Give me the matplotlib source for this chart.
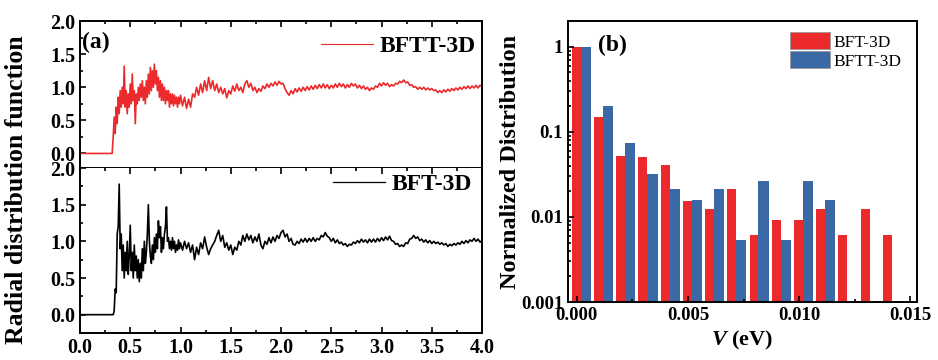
import numpy as np
import matplotlib
matplotlib.use("Agg")
import matplotlib.pyplot as plt
from matplotlib.ticker import (MultipleLocator, FixedLocator, NullFormatter,
                               LogLocator, FuncFormatter, FormatStrFormatter)
from matplotlib.patches import Patch
from matplotlib.lines import Line2D

plt.rcParams['font.family'] = ['Liberation Serif', 'DejaVu Serif']
plt.rcParams['font.weight'] = 'bold'
plt.rcParams['axes.labelweight'] = 'bold'
plt.rcParams['mathtext.fontset'] = 'custom'
plt.rcParams['mathtext.it'] = 'Liberation Serif:italic:bold'
plt.rcParams['mathtext.rm'] = 'Liberation Serif:bold'

# radial grid: flat region, fine steps up to 1.0, coarser afterwards
r_zero = [0.0]
r_fine = np.round(np.arange(0.32, 1.0001, 0.01), 2)
r_coarse = np.round(np.arange(1.02, 4.0001, 0.02), 2)
r_all = np.concatenate([r_zero, r_fine, r_coarse])

# g(r) for BFTT-3D
g_bftt_fine = [
    0.0, 0.25, 0.55, 0.30, 0.70, 0.45, 0.85, 0.60, 0.95, 0.70,   # 0.32-0.41
    1.00, 0.75, 1.32, 0.70, 0.95, 0.60, 0.90, 0.70, 1.05, 0.75,  # 0.42-0.51
    1.20, 0.80, 0.95, 0.45, 0.90, 0.75, 1.00, 0.80, 1.05, 0.85,  # 0.52-0.61
    1.10, 0.80, 1.00, 0.75, 1.10, 0.85, 1.20, 0.90, 1.30, 0.95,  # 0.62-0.71
    1.25, 1.00, 1.35, 1.05, 1.25, 0.95, 1.15, 0.85, 1.10, 0.80,  # 0.72-0.81
    1.05, 0.80, 1.00, 0.75, 0.95, 0.80, 0.95, 0.70, 0.90, 0.75,  # 0.82-0.91
    0.90, 0.72, 0.88, 0.75, 0.85, 0.70, 0.85, 0.75, 0.88,        # 0.92-1.00
]
g_bftt_coarse = [
    0.72, 0.85, 0.68, 0.82, 0.70, 0.90, 0.85, 1.00, 0.88, 1.05,  # 1.02-1.20
    0.92, 1.10, 0.95, 1.15, 0.98, 1.10, 0.95, 1.05, 0.92, 1.00,  # 1.22-1.40
    0.90, 0.98, 0.84, 0.95, 0.90, 1.02, 0.94, 1.05, 0.95, 1.00,  # 1.42-1.60
    0.92, 1.05, 1.10, 1.00, 1.06, 0.95, 1.00, 0.92, 0.98, 0.94,  # 1.62-1.80
    1.02, 0.98, 1.05, 1.00, 1.06, 1.02, 1.08, 1.03, 1.09, 1.05,  # 1.82-2.00
    1.06, 0.98, 0.92, 0.88, 0.95, 0.90, 0.98, 0.93, 0.99, 0.94,  # 2.02-2.20
    1.00, 0.95, 1.01, 0.96, 1.02, 0.97, 1.03, 0.98, 1.04, 0.99,  # 2.22-2.40
    1.05, 0.99, 1.04, 0.98, 1.03, 0.99, 1.05, 1.00, 1.06, 1.01,  # 2.42-2.60
    1.05, 0.99, 1.04, 1.00, 1.06, 1.02, 1.05, 0.99, 1.03, 0.98,  # 2.62-2.80
    1.02, 0.97, 1.00, 0.95, 0.99, 0.97, 1.02, 1.00, 1.06, 1.02,  # 2.82-3.00
    1.07, 1.03, 1.06, 1.01, 1.04, 1.02, 1.06, 1.05, 1.09, 1.07,  # 3.02-3.20
    1.11, 1.07, 1.08, 1.03, 1.04, 1.00, 1.01, 0.97, 1.00, 0.97,  # 3.22-3.40
    1.00, 0.96, 0.99, 0.96, 0.98, 0.95, 0.96, 0.92, 0.95, 0.92,  # 3.42-3.60
    0.96, 0.93, 0.97, 0.94, 0.98, 0.95, 0.99, 0.96, 1.00, 0.97,  # 3.62-3.80
    1.01, 0.98, 1.02, 0.98, 1.02, 0.99, 1.03, 0.99, 1.03, 1.01,  # 3.82-4.00
]

# g(r) for BFT-3D
g_bft_fine = [
    0.0, 0.0, 0.05, 0.35, 0.30, 1.10, 1.20, 1.78, 0.90, 1.10,    # 0.32-0.41
    0.60, 0.95, 0.50, 0.85, 0.60, 1.00, 0.55, 0.80, 1.22, 0.60,  # 0.42-0.51
    0.85, 0.50, 0.95, 0.60, 0.80, 0.50, 0.75, 0.45, 0.70, 0.50,  # 0.52-0.61
    0.90, 0.60, 1.00, 0.70, 0.85, 1.10, 1.50, 1.00, 0.80, 0.70,  # 0.62-0.71
    0.95, 0.75, 1.05, 0.85, 1.10, 0.90, 1.28, 1.05, 1.20, 0.85,  # 0.72-0.81
    1.05, 0.90, 1.10, 1.20, 1.47, 1.00, 1.05, 0.90, 1.00, 0.88,  # 0.82-0.91
    1.05, 0.90, 1.00, 0.85, 0.95, 0.88, 1.02, 0.90, 0.98,        # 0.92-1.00
]
g_bft_coarse = [
    0.88, 1.00, 0.90, 0.98, 0.85, 0.95, 0.75, 0.92, 0.82, 0.98,  # 1.02-1.20
    0.90, 1.06, 0.92, 0.82, 0.90, 0.95, 1.00, 1.08, 1.15, 1.00,  # 1.22-1.40
    1.08, 0.92, 0.98, 0.88, 0.95, 0.82, 0.92, 0.88, 1.00, 0.95,  # 1.42-1.60
    1.08, 1.00, 1.10, 1.02, 1.08, 0.98, 1.06, 1.00, 1.10, 0.95,  # 1.62-1.80
    0.90, 1.00, 0.96, 1.05, 0.98, 1.06, 1.00, 1.08, 1.04, 1.12,  # 1.82-2.00
    1.15, 1.06, 1.10, 1.00, 1.04, 0.96, 0.95, 1.00, 0.97, 1.03,  # 2.02-2.20
    0.99, 1.04, 0.99, 1.04, 1.00, 1.05, 1.00, 1.04, 1.02, 1.08,  # 2.22-2.40
    1.06, 1.12, 1.07, 1.05, 1.00, 1.04, 0.98, 1.02, 0.97, 0.99,  # 2.42-2.60
    0.95, 0.97, 0.93, 0.96, 0.95, 0.99, 0.97, 1.01, 0.98, 1.03,  # 2.62-2.80
    0.99, 1.02, 0.98, 1.03, 0.99, 1.03, 0.99, 1.04, 1.00, 1.05,  # 2.82-3.00
    1.01, 1.06, 1.02, 1.07, 1.01, 1.00, 0.96, 0.97, 0.93, 0.95,  # 3.02-3.20
    0.93, 0.98, 0.97, 1.03, 1.04, 1.08, 1.04, 1.06, 1.01, 1.03,  # 3.22-3.40
    0.99, 1.02, 0.98, 1.01, 0.97, 1.00, 0.97, 0.99, 0.96, 0.98,  # 3.42-3.60
    0.95, 0.97, 0.93, 0.96, 0.94, 0.97, 0.95, 0.98, 0.96, 1.00,  # 3.62-3.80
    0.97, 1.01, 0.98, 1.02, 1.00, 1.04, 1.00, 1.03, 0.99, 1.01,  # 3.82-4.00
]

g_bftt = np.concatenate([[0.0], g_bftt_fine, g_bftt_coarse])
g_bft = np.concatenate([[0.0], g_bft_fine, g_bft_coarse])

# normalized distribution of V, one bin per 0.001 eV
v_bins = np.arange(15) * 0.001
dist_bft = [1.0, 0.149, 0.052, 0.050, 0.041, 0.0155, 0.0123, 0.0211,
            0.0061, 0.0093, 0.0093, 0.0123, 0.0061, 0.0123, 0.0061]
dist_bftt = [1.0, 0.202, 0.074, 0.032, 0.021, 0.016, 0.021, 0.0053,
             0.0265, 0.0053, 0.0265, 0.016]

red = '#EC2A2B'
blue = '#3B69A5'

fig = plt.figure(figsize=(9.38, 3.6), dpi=100)
ax_top = fig.add_axes([0.0853, 0.5333, 0.4286, 0.408])
ax_bot = fig.add_axes([0.0853, 0.075, 0.4286, 0.4583])
ax_b = fig.add_axes([0.6055, 0.161, 0.372, 0.7806])

ax_top.plot(r_all, g_bftt, color=red, lw=1.2)
ax_bot.plot(r_all, g_bft, color='black', lw=1.2)

for ax, lo in ((ax_top, -0.22), (ax_bot, -0.25)):
    ax.set_xlim(0, 4.0)
    ax.set_ylim(lo, 2.0)
    ax.xaxis.set_major_locator(MultipleLocator(0.5))
    ax.xaxis.set_minor_locator(MultipleLocator(0.25))
    ax.yaxis.set_major_locator(MultipleLocator(0.5))
    ax.yaxis.set_minor_locator(MultipleLocator(0.25))
    ax.yaxis.set_major_formatter(FormatStrFormatter('%.1f'))
    ax.xaxis.set_major_formatter(FormatStrFormatter('%.1f'))
    ax.tick_params(which='both', direction='in', top=True, right=False,
                   labelsize=14.5, width=1.2)
    ax.tick_params(which='major', length=4)
    ax.tick_params(which='minor', length=2)
    for s in ax.spines.values():
        s.set_linewidth(1.4)
ax_top.tick_params(labelbottom=False, bottom=False, which='both')
ax_bot.spines['top'].set_visible(False)

ax_top.text(0.005, 0.93, '(a)', transform=ax_top.transAxes, fontsize=17,
            ha='left', va='top')
ax_top.legend([Line2D([], [], color=red, lw=0.8)], ['BFTT-3D'],
              loc='upper right', bbox_to_anchor=(0.985, 0.9), frameon=False,
              fontsize=17, handlelength=2.2, handletextpad=0.3, borderpad=0,
              borderaxespad=0)
ax_bot.legend([Line2D([], [], color='black', lw=0.9)], ['BFT-3D'],
              loc='upper right', bbox_to_anchor=(0.975, 0.965), frameon=False,
              fontsize=17, handlelength=2.2, handletextpad=0.3, borderpad=0,
              borderaxespad=0)
fig.text(0.018, 0.472, 'Radial distribution function', rotation=90,
         fontsize=18.5, ha='center', va='center')

# bar chart of the distribution
ax_b.bar(v_bins - 0.00003, dist_bft, width=0.0004, color=red, label='BFT-3D')
ax_b.bar(v_bins[:len(dist_bftt)] + 0.0004, dist_bftt, width=0.00046,
         color=blue, label='BFTT-3D')
ax_b.set_yscale('log')
ax_b.set_ylim(0.001, 2.0)
ax_b.set_xlim(-0.0004, 0.0153)
ax_b.xaxis.set_major_locator(MultipleLocator(0.005))
ax_b.xaxis.set_minor_locator(MultipleLocator(0.0025))
ax_b.xaxis.set_major_formatter(FormatStrFormatter('%.3f'))
ax_b.yaxis.set_major_locator(FixedLocator([0.001, 0.01, 0.1, 1]))
ax_b.yaxis.set_minor_locator(LogLocator(base=10, subs=np.arange(2, 10)))
ax_b.yaxis.set_minor_formatter(NullFormatter())
ax_b.yaxis.set_major_formatter(FuncFormatter(lambda v, _: f'{v:g}'))
ax_b.tick_params(which='both', direction='in', labelsize=13.5, width=1.2)
ax_b.tick_params(which='major', length=4)
ax_b.tick_params(which='minor', length=2)
for s in ax_b.spines.values():
    s.set_linewidth(1.4)
ax_b.set_xlabel(r'$V$ (eV)', fontsize=16, labelpad=4)
ax_b.set_ylabel('Normalized Distribution', fontsize=17.5, labelpad=0)
ax_b.text(0.085, 0.95, '(b)', transform=ax_b.transAxes, fontsize=17,
          ha='left', va='top')
handles = [Patch(facecolor=red, edgecolor='#999999', lw=0.6),
           Patch(facecolor=blue, edgecolor='#999999', lw=0.6)]
ax_b.legend(handles, ['BFT-3D', 'BFTT-3D'], loc='upper right',
            bbox_to_anchor=(0.957, 0.96), frameon=False,
            prop={'weight': 'normal', 'size': 12.5}, handlelength=2.3,
            handleheight=1.15, handletextpad=0.25, labelspacing=0.02,
            borderpad=0, borderaxespad=0)

fig.savefig('out.png', dpi=100)
